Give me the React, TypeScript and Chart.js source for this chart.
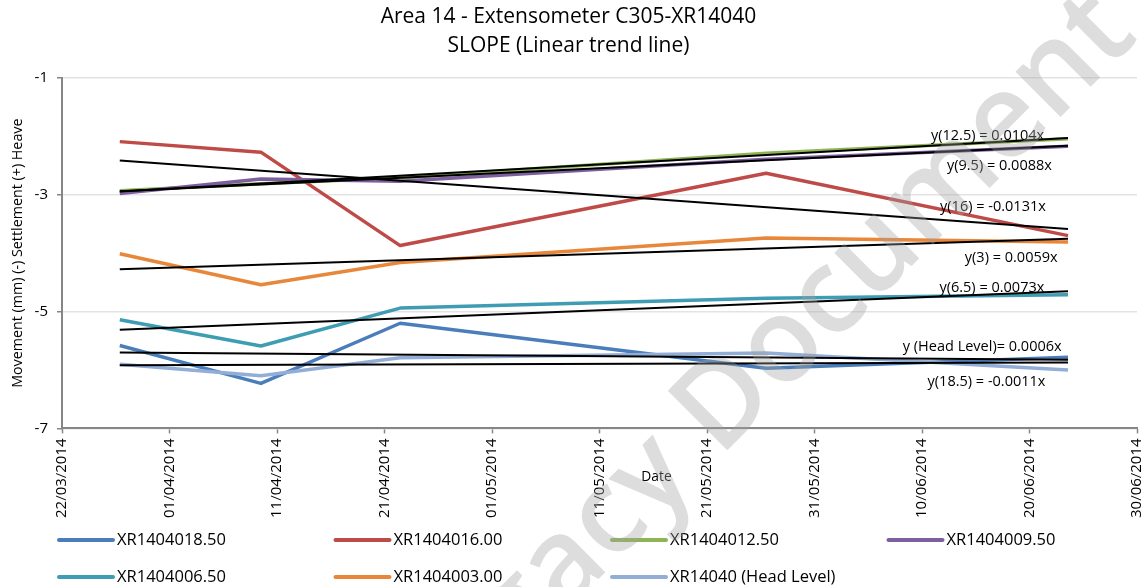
import React, { useEffect, useRef } from "react";
import { Chart, registerables } from "chart.js";

Chart.register(...registerables);

const FONT = "'Open Sans', 'Noto Sans', 'DejaVu Sans', sans-serif";

// ---- Data ----
const titleLines = ["Area 14 - Extensometer C305-XR14040", "SLOPE (Linear trend line)"];
const yAxisTitle = "Movement (mm) (-) Settlement (+) Heave";
const xAxisTitle = "Date";

const axisStartDate = "2014-03-22";
const axisEndDays = 100;
const xTickStepDays = 10;
const yMin = -7;
const yMax = -1;
const yStep = 2;

const measurementDates = [
  "2014-03-27T09:00",
  "2014-04-09T12:00",
  "2014-04-22T11:00",
  "2014-05-26T12:00",
  "2014-06-23T14:00",
];

const seriesNames = [
  "XR1404018.50",
  "XR1404016.00",
  "XR1404012.50",
  "XR1404009.50",
  "XR1404006.50",
  "XR1404003.00",
  "XR14040 (Head Level)",
];

const xr1404018_50 = [-5.58, -6.23, -5.2, -5.97, -5.78];
const xr1404016_00 = [-2.09, -2.27, -3.87, -2.63, -3.7];
const xr1404012_50 = [-2.93, -2.81, -2.71, -2.29, -2.04];
const xr1404009_50 = [-2.98, -2.73, -2.77, -2.39, -2.17];
const xr1404006_50 = [-5.14, -5.59, -4.94, -4.77, -4.71];
const xr1404003_00 = [-4.01, -4.54, -4.16, -3.74, -3.81];
const xr14040Head = [-5.9, -6.1, -5.79, -5.71, -6.0];

const seriesValues = [
  xr1404018_50,
  xr1404016_00,
  xr1404012_50,
  xr1404009_50,
  xr1404006_50,
  xr1404003_00,
  xr14040Head,
];

const seriesColors = ["#4A7EBB", "#BE4B48", "#8FB455", "#7D5FA0", "#3F9DB3", "#E8873A", "#93AED6"];

// trend line equation labels (anchored in data units: day offset, value)
const trendLabelTexts = [
  "y(12.5) = 0.0104x",
  "y(9.5) = 0.0088x",
  "y(16) = -0.0131x",
  "y(3) = 0.0059x",
  "y(6.5) = 0.0073x",
  "y (Head Level)= 0.0006x",
  "y(18.5) = -0.0011x",
];
const trendLabelDays = [86.1, 87.2, 86.6, 88.3, 86.5, 85.6, 86.0];
const trendLabelValues = [-1.99, -2.5, -3.2, -4.085, -4.6, -5.61, -6.2];

const watermarkText = "Legacy Document";

// ---- helpers ----
const DAY_MS = 86400000;
const baseMs = Date.parse(axisStartDate + "T00:00:00Z");
const toDays = (d: string) => (Date.parse(d + ":00Z") - baseMs) / DAY_MS;
const xDays = measurementDates.map(toDays);

const pad2 = (n: number) => (n < 10 ? "0" + n : String(n));
const formatDay = (v: number) => {
  const d = new Date(baseMs + Math.round(v) * DAY_MS);
  return pad2(d.getUTCDate()) + "/" + pad2(d.getUTCMonth() + 1) + "/" + d.getUTCFullYear();
};

function linearFit(xs: number[], ys: number[]) {
  const n = xs.length;
  const mx = xs.reduce((a, b) => a + b, 0) / n;
  const my = ys.reduce((a, b) => a + b, 0) / n;
  let sxy = 0;
  let sxx = 0;
  for (let i = 0; i < n; i++) {
    sxy += (xs[i] - mx) * (ys[i] - my);
    sxx += (xs[i] - mx) * (xs[i] - mx);
  }
  const slope = sxy / sxx;
  return { slope, intercept: my - slope * mx };
}

const PLOT_BOTTOM = 428.4;
const BOTTOM_PAD = 20;

const overlayPlugin = {
  id: "overlay",
  afterDraw(chart: any) {
    const ctx = chart.ctx as CanvasRenderingContext2D;
    const xs = chart.scales.x;
    const ys = chart.scales.y;
    const area = chart.chartArea;
    ctx.save();
    // trend equation labels
    ctx.fillStyle = "#000";
    ctx.font = `14.5px ${FONT}`;
    ctx.textAlign = "center";
    ctx.textBaseline = "middle";
    trendLabelTexts.forEach((t, i) => {
      ctx.fillText(t, xs.getPixelForValue(trendLabelDays[i]), ys.getPixelForValue(trendLabelValues[i]));
    });
    // x axis title
    ctx.font = `13.8px ${FONT}`;
    ctx.fillText(xAxisTitle, xs.getPixelForValue(55.3), area.bottom + 49);

    // legend
    const colW = 276.5;
    const startX = 59;
    const rowY = [540, 577];
    ctx.font = `16.5px ${FONT}`;
    ctx.textAlign = "left";
    seriesNames.forEach((name, i) => {
      const col = i % 4;
      const row = Math.floor(i / 4);
      const x0 = startX + col * colW;
      const y0 = rowY[row];
      ctx.strokeStyle = seriesColors[i];
      ctx.lineWidth = 4;
      ctx.lineCap = "round";
      ctx.beginPath();
      ctx.moveTo(x0, y0);
      ctx.lineTo(x0 + 54, y0);
      ctx.stroke();
      ctx.fillStyle = "#000";
      ctx.fillText(name, x0 + 58, y0);
    });

    // watermark
    ctx.translate(758, 372);
    ctx.rotate(-Math.PI / 4);
    ctx.font = `600 118px ${FONT}`;
    ctx.textAlign = "center";
    ctx.textBaseline = "middle";
    ctx.fillStyle = "rgba(160,160,160,0.36)";
    ctx.fillText(watermarkText, 0, 0);
    ctx.restore();
  },
};

export default function App() {
  const canvasRef = useRef<HTMLCanvasElement | null>(null);

  useEffect(() => {
    if (!canvasRef.current) return;

    const seriesDatasets = seriesNames.map((name, i) => ({
      label: name,
      data: seriesValues[i].map((v, j) => ({ x: xDays[j], y: v })),
      borderColor: seriesColors[i],
      backgroundColor: seriesColors[i],
      borderWidth: 3.5,
      pointRadius: 0,
      tension: 0,
      borderJoinStyle: "round" as const,
      fill: false,
      order: 10 - i,
    }));

    const trendDatasets = seriesNames.map((name, i) => {
      const { slope, intercept } = linearFit(xDays, seriesValues[i]);
      const x0 = xDays[0];
      const x1 = xDays[xDays.length - 1];
      return {
        label: "Trend " + name,
        data: [
          { x: x0, y: intercept + slope * x0 },
          { x: x1, y: intercept + slope * x1 },
        ],
        borderColor: "#000000",
        backgroundColor: "#000000",
        borderWidth: 2,
        pointRadius: 0,
        fill: false,
        order: 1,
      };
    });

    const chart = new Chart(canvasRef.current, {
      type: "line",
      data: { datasets: [...seriesDatasets, ...trendDatasets] as any },
      options: {
        animation: false,
        responsive: false,
        devicePixelRatio: 1,
        events: [],
        layout: { padding: { top: 0, left: 0, right: 8, bottom: BOTTOM_PAD } },
        plugins: {
          legend: { display: false },
          tooltip: { enabled: false },
          title: {
            display: true,
            text: titleLines,
            color: "#000",
            font: { family: FONT, size: 21, weight: "normal", lineHeight: 1.38 },
            padding: { top: 3, bottom: 17 },
          },
        },
        scales: {
          x: {
            type: "linear",
            min: 0,
            max: axisEndDays,
            ticks: {
              stepSize: xTickStepDays,
              autoSkip: false,
              minRotation: 90,
              maxRotation: 90,
              padding: 5,
              color: "#000",
              font: { family: FONT, size: 15 },
              callback: (v: any) => formatDay(Number(v)),
            },
            grid: {
              display: true,
              drawOnChartArea: false,
              drawTicks: true,
              tickLength: 5,
              tickColor: "#868686",
              tickWidth: 1.5,
            },
            border: { display: true, color: "#868686", width: 2 },
            afterFit: (s: any) => {
              s.height = 587 - BOTTOM_PAD - PLOT_BOTTOM;
              s.paddingLeft = 0;
              s.paddingRight = 0;
            },
          },
          y: {
            type: "linear",
            min: yMin,
            max: yMax,
            ticks: {
              stepSize: yStep,
              padding: 9,
              color: "#000",
              font: { family: FONT, size: 15 },
            },
            grid: {
              color: "#e3e3e3",
              lineWidth: 1.5,
              tickLength: 5,
              tickColor: "#868686",
              tickWidth: 1.5,
            },
            border: { display: true, color: "#868686", width: 2 },
            title: {
              display: true,
              text: yAxisTitle,
              color: "#000",
              font: { family: FONT, size: 14.3 },
              padding: { top: 9, bottom: 0 },
            },
            afterFit: (s: any) => {
              s.width = 62;
            },
          },
        },
      } as any,
      plugins: [overlayPlugin],
    });

    return () => chart.destroy();
  }, []);

  return (
    <div style={{ position: "absolute", left: 0, top: 0, width: 1145, height: 587, background: "#fff" }}>
      <canvas ref={canvasRef} width={1145} height={587} style={{ display: "block" }} />
    </div>
  );
}
